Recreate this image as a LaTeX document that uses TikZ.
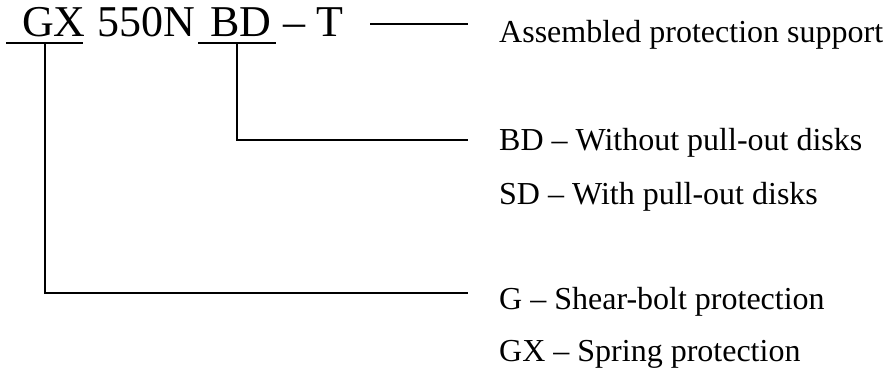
\documentclass[tikz,border=0pt]{standalone}
\usepackage{fontspec}
\setmainfont{Liberation Serif}
\usetikzlibrary{positioning,calc}
\tikzstyle{code} = [inner sep=0pt, anchor=base west, font=\fontsize{44}{50}\selectfont]
\tikzstyle{desc} = [inner sep=0pt, anchor=base west, font=\fontsize{32}{36}\selectfont]
\tikzstyle{link} = [line width=2pt]

\begin{document}
\begin{tikzpicture}[x=1pt,y=-1pt]
\useasboundingbox (0,0) rectangle (886,374);
% type code
\node [code] (gx) at (22,37) {GX};
\node [code] (num) at (97,37) {550N};
\node [code] (bd) at (210,37) {BD};
\node [code] (t) at (283,37) {-- T};
% underlines
\coordinate (gxl) at (6,43);
\coordinate (gxr) at (83,43);
\coordinate (bdl) at (198,43);
\coordinate (bdr) at (276,43);
\draw [link] (gxl) -- (gxr);
\draw [link] (bdl) -- (bdr);
% descriptions
\node [desc] (asm) at (499,43) {Assembled protection support};
\node [desc] (bdd) at (499,151) {BD -- Without pull-out disks};
\node [desc] (sdd) at (499,205) {SD -- With pull-out disks};
\node [desc] (gd) at (499,309) {G -- Shear-bolt protection};
\node [desc] (gxd) at (499,361) {GX -- Spring protection};
% connectors
\coordinate (gxu) at ($(gxl)!0.5!(gxr)$);
\coordinate (bdu) at ($(bdl)!0.5!(bdr)$);
\coordinate (tl) at (370,24);
\coordinate (tr) at (468,24);
\coordinate (bdend) at (468,140);
\coordinate (gxend) at (468,293);
\draw [link] (tl) -- (tr);
\draw [link] (bdu) |- (bdend);
\draw [link] (gxu) |- (gxend);
\end{tikzpicture}
\end{document}
